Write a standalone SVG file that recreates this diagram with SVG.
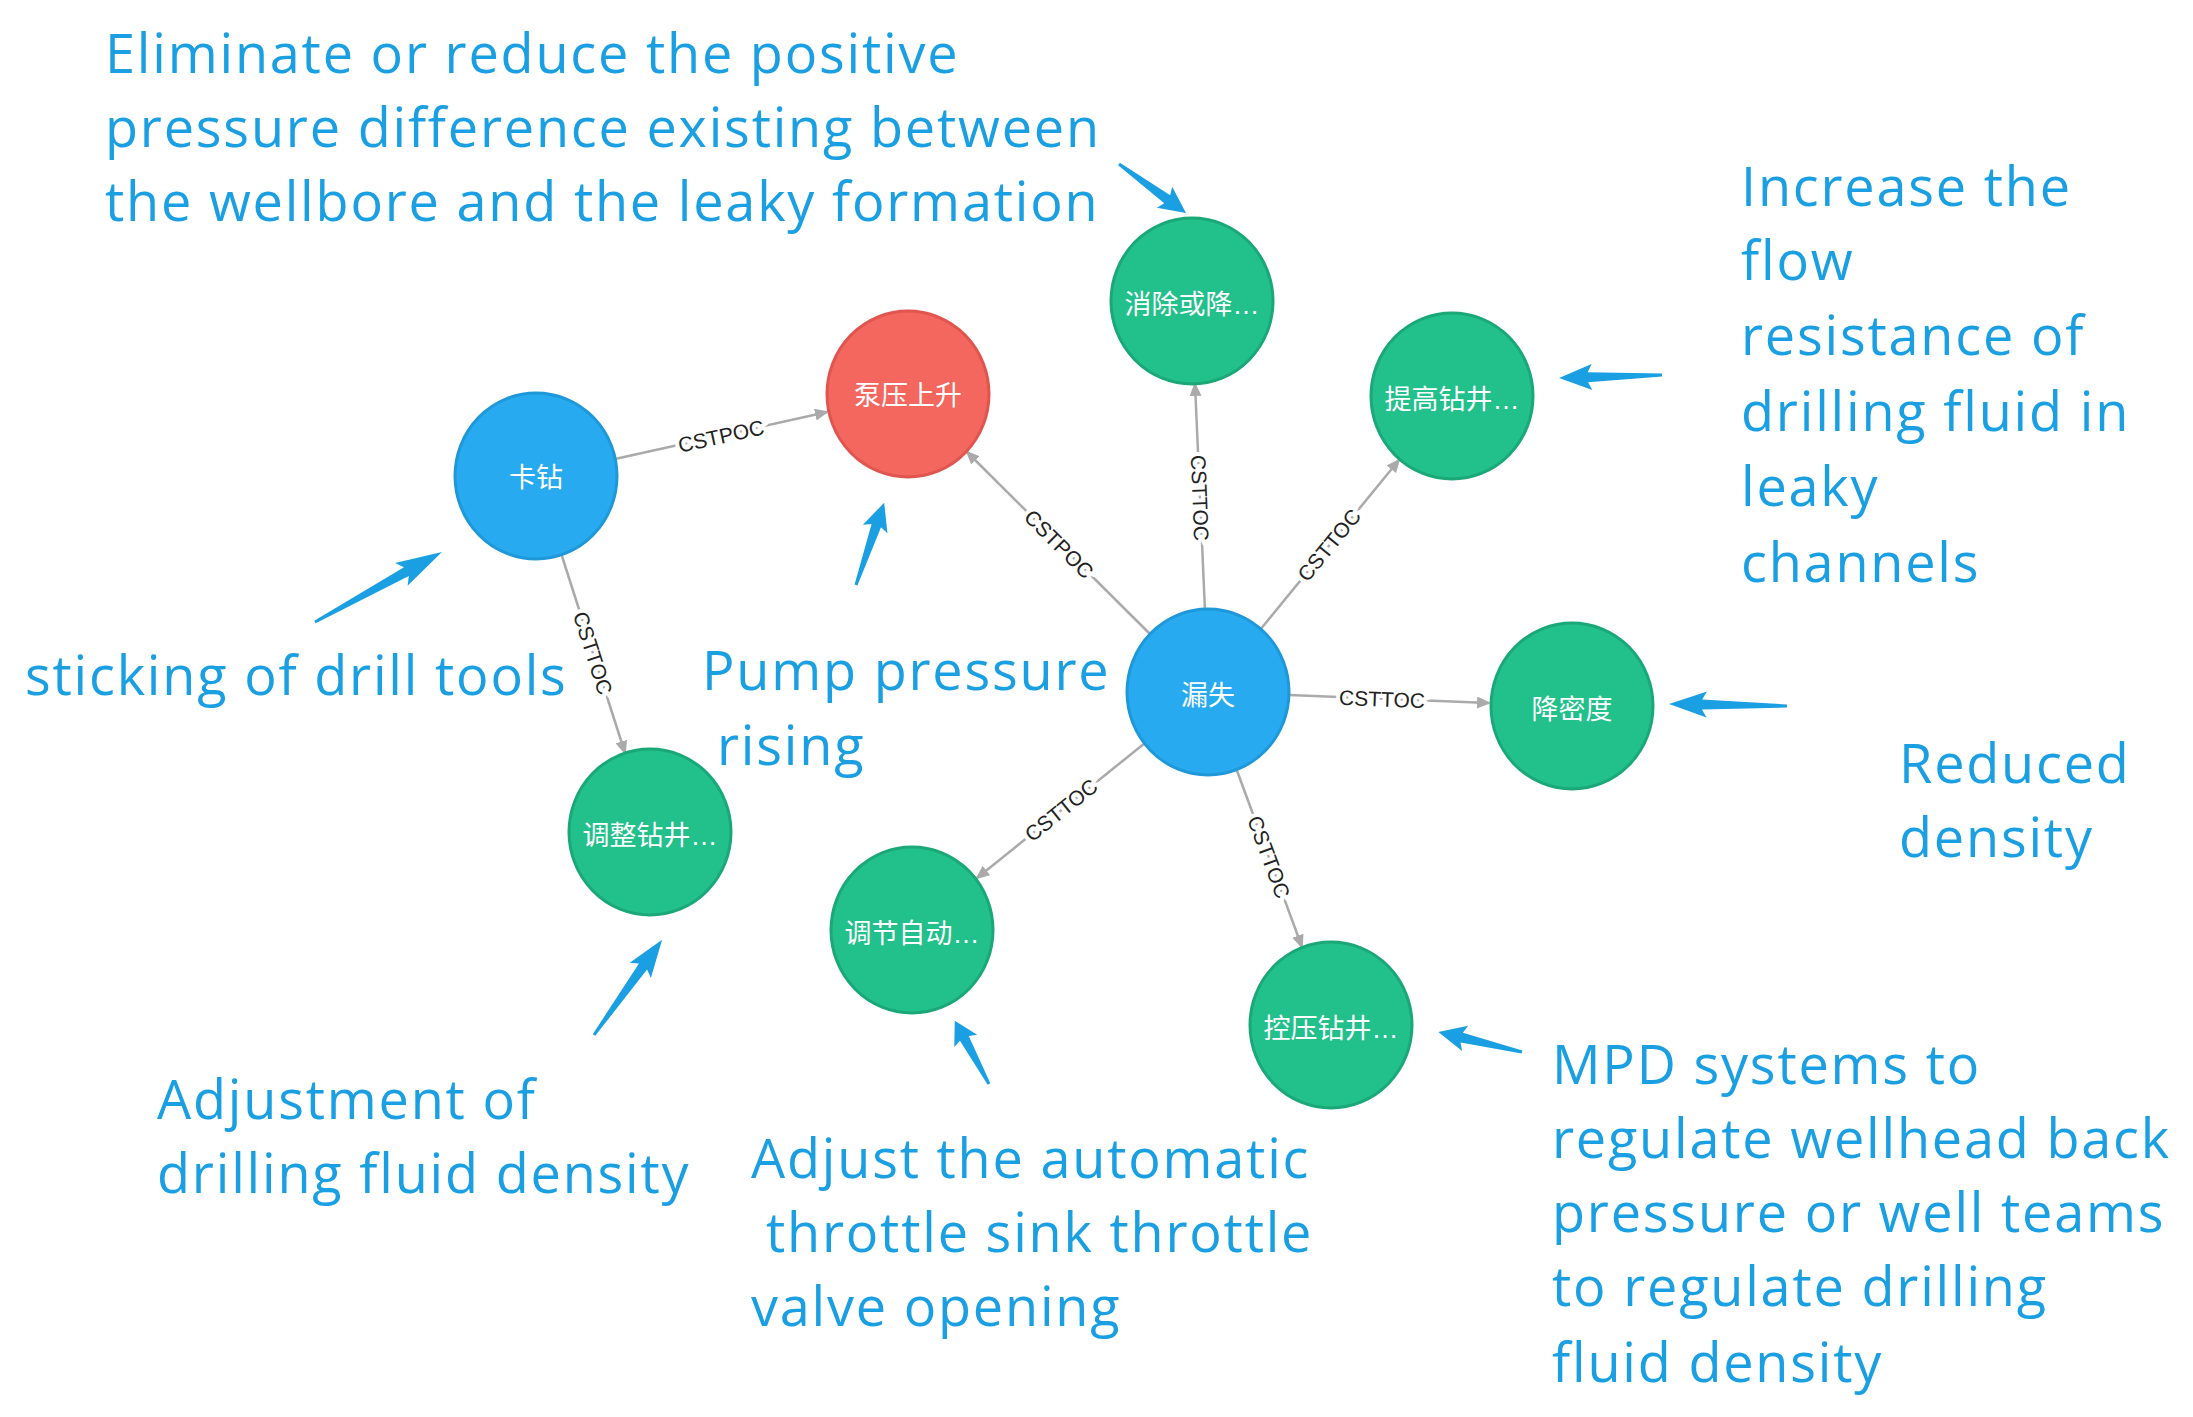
<svg xmlns="http://www.w3.org/2000/svg" width="2193" height="1417" viewBox="0 0 2193 1417">
<defs>
<style>
.ann{font-family:"Open Sans","Liberation Sans",sans-serif;font-size:54px;letter-spacing:1.8px;fill:#1a9fe3}
.nl{font-family:"Liberation Sans","Noto Sans CJK SC",sans-serif;font-size:27px;fill:#fff;text-anchor:middle;dominant-baseline:central}
.el{font-family:"Liberation Sans",sans-serif;font-size:21px;fill:#222;text-anchor:middle;dominant-baseline:central;stroke:#fff;stroke-width:8px;paint-order:stroke}
.ln{stroke:#aaa;stroke-width:2.5;fill:none;marker-end:url(#ah)}
.b{fill:#27aaf0;stroke:#1e98d8;stroke-width:3}
.g{fill:#22c08a;stroke:#1aa877;stroke-width:3}
.r{fill:#f4675f;stroke:#e0554d;stroke-width:3}
.ba{fill:#1a9fe3}
</style>
<marker id="ah" markerWidth="14" markerHeight="12" refX="12" refY="6" orient="auto" markerUnits="userSpaceOnUse"><path d="M0,0 L14,6 L0,12 Z" fill="#aaa"/></marker>
<path id="barrow" d="M0,-1.5 L72,-5 L68,-13 L100,0 L68,13 L72,5 L0,1.5 Z"/>
</defs>
<rect width="2193" height="1417" fill="#fff"/>
<g id="connectors">
<line class="ln" x1="615" y1="459" x2="827" y2="412"/>
<text class="el" transform="translate(721,436) rotate(-12.4)">CSTPOC</text>
<line class="ln" x1="561" y1="553" x2="625" y2="753"/>
<text class="el" transform="translate(593,653) rotate(72.2)">CSTTOC</text>
<line class="ln" x1="1151" y1="635" x2="967" y2="452"/>
<text class="el" transform="translate(1059,544) rotate(44.8)">CSTPOC</text>
<line class="ln" x1="1205" y1="611" x2="1195" y2="384"/>
<text class="el" transform="translate(1200,498) rotate(87.7)">CSTTOC</text>
<line class="ln" x1="1260" y1="630" x2="1399" y2="460"/>
<text class="el" transform="translate(1329,545) rotate(-50.5)">CSTTOC</text>
<line class="ln" x1="1289" y1="695" x2="1489" y2="703"/>
<text class="el" transform="translate(1382,699) rotate(2.2)">CSTTOC</text>
<line class="ln" x1="1145" y1="743" x2="977" y2="878"/>
<text class="el" transform="translate(1061,810) rotate(-38.8)">CSTTOC</text>
<line class="ln" x1="1236" y1="768" x2="1302" y2="947"/>
<text class="el" transform="translate(1269,857) rotate(69.7)">CSTTOC</text>
</g>
<g id="n-kazuan"><ellipse class="b" cx="536" cy="476" rx="81" ry="83"/><text class="nl" x="536" y="478">卡钻</text></g>
<g id="n-bengya"><ellipse class="r" cx="908" cy="394" rx="81" ry="83"/><text class="nl" x="908" y="396">泵压上升</text></g>
<g id="n-xiaochu"><ellipse class="g" cx="1192" cy="301" rx="81" ry="83"/><text class="nl" x="1192" y="305">消除或降…</text></g>
<g id="n-tigao"><ellipse class="g" cx="1452" cy="396" rx="81" ry="83"/><text class="nl" x="1452" y="400">提高钻井…</text></g>
<g id="n-loushi"><ellipse class="b" cx="1208" cy="692" rx="81" ry="83"/><text class="nl" x="1208" y="696">漏失</text></g>
<g id="n-jiangmidu"><ellipse class="g" cx="1572" cy="706" rx="81" ry="83"/><text class="nl" x="1572" y="710">降密度</text></g>
<g id="n-tiaozheng"><ellipse class="g" cx="650" cy="832" rx="81" ry="83"/><text class="nl" x="650" y="836">调整钻井…</text></g>
<g id="n-tiaojie"><ellipse class="g" cx="912" cy="930" rx="81" ry="83"/><text class="nl" x="912" y="934">调节自动…</text></g>
<g id="n-kongya"><ellipse class="g" cx="1331" cy="1025" rx="81" ry="83"/><text class="nl" x="1331" y="1029">控压钻井…</text></g>
<g id="annotations">
<text class="ann" x="105" y="73">Eliminate or reduce the positive</text>
<text class="ann" x="105" y="147">pressure difference existing between</text>
<text class="ann" x="105" y="221">the wellbore and the leaky formation</text>
<text class="ann" x="1741" y="206">Increase the</text>
<text class="ann" x="1741" y="280">flow</text>
<text class="ann" x="1741" y="355">resistance of</text>
<text class="ann" x="1741" y="431">drilling fluid in</text>
<text class="ann" x="1741" y="506">leaky</text>
<text class="ann" x="1741" y="582">channels</text>
<text class="ann" x="25" y="695">sticking of drill tools</text>
<text class="ann" x="702" y="690">Pump pressure</text>
<text class="ann" x="717" y="765">rising</text>
<text class="ann" x="1899" y="783">Reduced</text>
<text class="ann" x="1899" y="857">density</text>
<text class="ann" x="157" y="1119">Adjustment of</text>
<text class="ann" x="157" y="1193">drilling fluid density</text>
<text class="ann" x="751" y="1178">Adjust the automatic</text>
<text class="ann" x="766" y="1252">throttle sink throttle</text>
<text class="ann" x="751" y="1326">valve opening</text>
<text class="ann" x="1552" y="1084">MPD systems to</text>
<text class="ann" x="1552" y="1158">regulate wellhead back</text>
<text class="ann" x="1552" y="1232">pressure or well teams</text>
<text class="ann" x="1552" y="1306">to regulate drilling</text>
<text class="ann" x="1552" y="1382">fluid density</text>
<use href="#barrow" class="ba" transform="translate(1119,164) rotate(36.2) scale(0.83,1)"/>
<use href="#barrow" class="ba" transform="translate(1662,375) rotate(178.3) scale(1.03,1)"/>
<use href="#barrow" class="ba" transform="translate(1787,706) rotate(181) scale(1.18,1)"/>
<use href="#barrow" class="ba" transform="translate(315,622) rotate(-28.9) scale(1.45,1)"/>
<use href="#barrow" class="ba" transform="translate(856,585) rotate(-71.1) scale(0.87,1)"/>
<use href="#barrow" class="ba" transform="translate(594,1035) rotate(-54.4) scale(1.17,1)"/>
<use href="#barrow" class="ba" transform="translate(989,1084) rotate(-118.4) scale(0.72,1)"/>
<use href="#barrow" class="ba" transform="translate(1522,1052) rotate(-166.6) scale(0.86,1)"/>
</g>
</svg>
